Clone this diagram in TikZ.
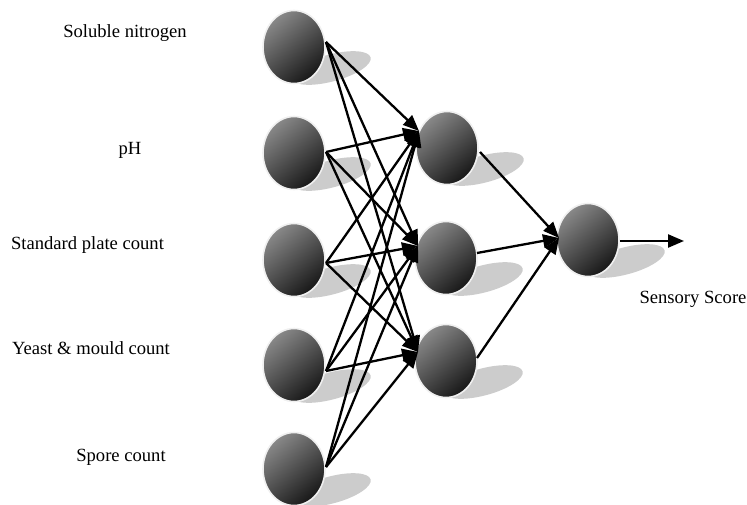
\documentclass[tikz,border=0pt]{standalone}
\usepackage{fontspec}
\setmainfont{Liberation Serif}
\usetikzlibrary{arrows.meta,shapes.geometric}
\begin{document}
\begin{tikzpicture}[x=1pt,y=-1pt,
  neuron/.style={ellipse, minimum width=62pt, minimum height=73pt, inner sep=0pt,
    draw=black!6, line width=1.6pt,
    top color={rgb,255:red,136;green,136;blue,136},
    bottom color={rgb,255:red,24;green,24;blue,24}, shading angle=40},
  shadowfill/.style={fill=black!20, draw=none},
  lbl/.style={anchor=base, inner sep=0pt, font=\fontsize{18.6pt}{22pt}\selectfont},
  conn/.style={line width=2.3pt, -{Triangle[length=16pt,width=13pt]}}]
\useasboundingbox (0,0) rectangle (747,504);
% shadows
\foreach \x/\y in {294/47, 294/153, 294/260, 294/365, 294/469, 447/148, 446/258, 446/361, 588/240}{
  \fill[shadowfill] (\x+37,\y+21) ellipse[x radius=41pt, y radius=13.5pt, rotate=15];
}
% neurons
\node[neuron] (i1) at (294,47) {};
\node[neuron] (i2) at (294,153) {};
\node[neuron] (i3) at (294,260) {};
\node[neuron] (i4) at (294,365) {};
\node[neuron] (i5) at (294,469) {};
\node[neuron] (h1) at (447,148) {};
\node[neuron] (h2) at (446,258) {};
\node[neuron] (h3) at (446,361) {};
\node[neuron] (o) at (588,240) {};
% connector points
\coordinate (s1) at (326,42);
\coordinate (s2) at (326,152);
\coordinate (s3) at (326,263);
\coordinate (s4) at (326,371);
\coordinate (s5) at (326,467);
\coordinate (t1) at (419,131);
\coordinate (t2) at (418,246);
\coordinate (t3) at (418,352);
\coordinate (u1) at (480,152);
\coordinate (u2) at (477,253);
\coordinate (u3) at (477,358);
\coordinate (v) at (559,238);
\coordinate (w0) at (620,241);
\coordinate (w1) at (684,241);
% connectors
\foreach \s in {s1,s2,s3,s4,s5}{
  \foreach \t in {t1,t2,t3}{
    \draw[conn] (\s) -- (\t);
  }
}
\foreach \u in {u1,u2,u3}{
  \draw[conn] (\u) -- (v);
}
\draw[conn] (w0) -- (w1);
% labels
\node[lbl] (l1) at (125,37) {Soluble nitrogen};
\node[lbl] (l2) at (130,154) {pH};
\node[lbl] (l3) at (87.5,249) {Standard plate count};
\node[lbl] (l4) at (91,354) {Yeast \& mould count};
\node[lbl] (l5) at (121,461) {Spore count};
\node[lbl] (l6) at (693,303) {Sensory Score};
\end{tikzpicture}
\end{document}
